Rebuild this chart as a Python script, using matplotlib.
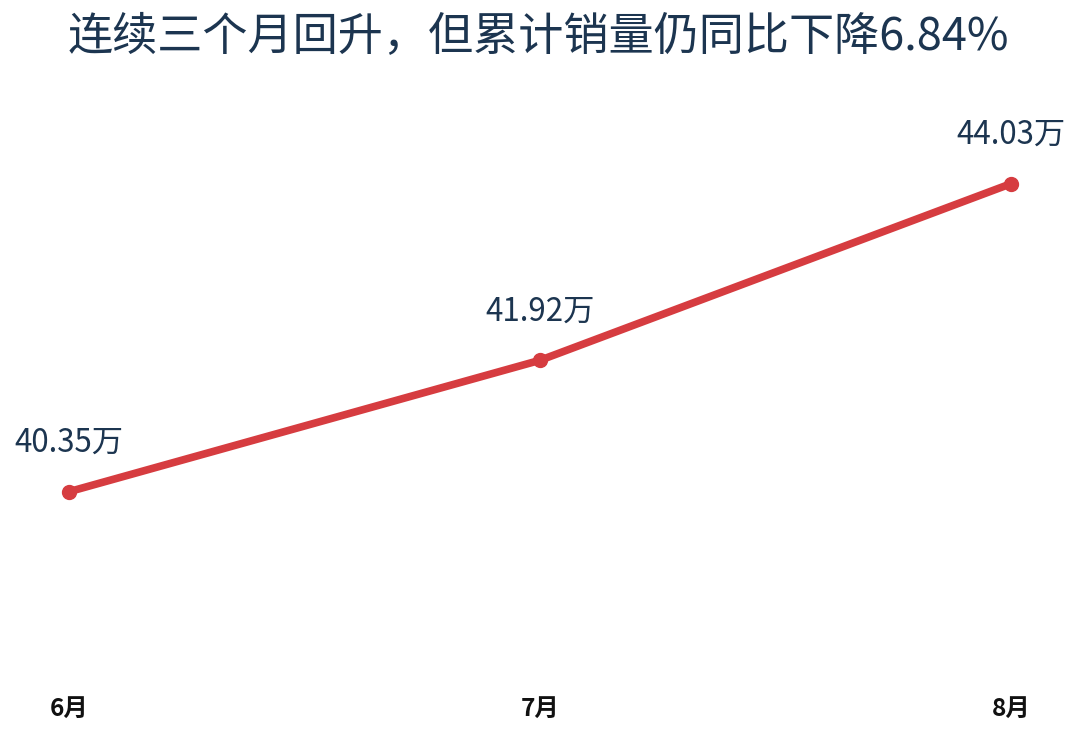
import matplotlib
matplotlib.use('Agg')
import matplotlib.pyplot as plt

plt.rcParams['font.family'] = ['Noto Sans CJK SC', 'DejaVu Sans']

months = ['6月', '7月', '8月']
sales = [40.35, 41.92, 44.03]  # 万辆
labels = ['40.35万', '41.92万', '44.03万']
title = '连续三个月回升，但累计销量仍同比下降6.84%'

text_color = '#1c3550'
line_color = '#d63c40'

W, H = 1080, 739
fig = plt.figure(figsize=(W / 100, H / 100), dpi=100)
fig.patch.set_facecolor('white')

# axes placed so the points land where the reference has them
ax = fig.add_axes([69 / W, (H - 680) / H, 942 / W, 580 / H])
x = list(range(len(months)))
ax.plot(x, sales, color=line_color, linewidth=5.5, marker='o', markersize=10,
        solid_capstyle='round', clip_on=False, zorder=3)
ax.set_xlim(0, len(months) - 1)
ax.set_ylim(38.1, 45.03)

for xi, v, lab in zip(x, sales, labels):
    ax.annotate(lab, (xi, v), xytext=(0, 35), textcoords='offset points',
                ha='center', va='center', fontsize=22.5, color=text_color)

for s in ax.spines.values():
    s.set_visible(False)
ax.set_yticks([])
ax.set_xticks(x)
ax.set_xticklabels(months, fontsize=17.5, fontweight='bold', color='#111111')
ax.tick_params(axis='x', length=0, pad=12)

fig.text(538 / W, 1 - 37 / H, title, ha='center', va='center',
         fontsize=32.5, color=text_color)

fig.savefig('out.png', dpi=100, facecolor='white')
